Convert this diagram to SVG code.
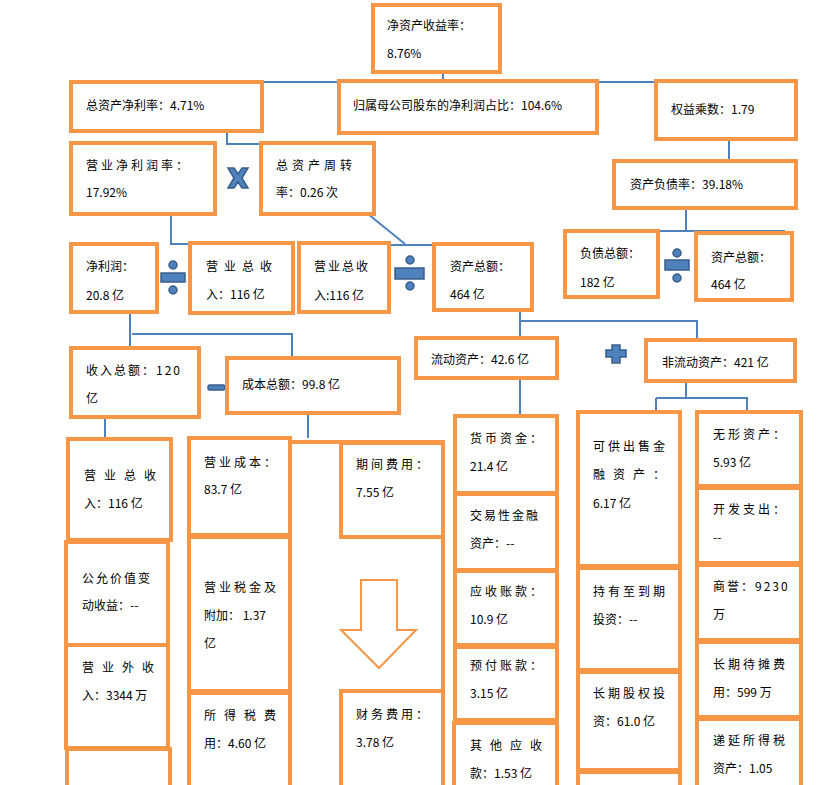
<svg xmlns="http://www.w3.org/2000/svg" width="829" height="785" viewBox="0 0 829 785">
<style>
.b{fill:#fff;stroke:#F79646;stroke-width:4}
.t{font-family:"Noto Sans CJK SC","Liberation Sans",sans-serif;font-size:12px;fill:#000}
.c{fill:none;stroke:#4F81BD;stroke-width:2}
.i{fill:#4F81BD;stroke:#385D8A;stroke-width:1.5}
</style>
<rect width="829" height="785" fill="#fff"/>
<g id="connectors">
<path class="c" d="M443 72V82M262 82H656"/>
<path class="c" d="M227 131V144H261"/>
<path class="c" d="M729 139V161"/>
<path class="c" d="M686 208V231M658 231H785"/>
<path class="c" d="M171 214V244H190"/>
<path class="c" d="M368 214L405 244M389 245H434"/>
<path class="c" d="M130 312V348M132 334H292V358"/>
<path class="c" d="M520 310V338M520 321H697V340"/>
<path class="c" d="M686 381V398M656 398H747V412M656 398V412"/>
<path class="c" d="M105 417V438M308 413V438M520 378V417"/>
</g>
<g id="icons">
<path class="i" d="M228 168L234 168L238 174L242 168L248 168L242 178L248 188L242 188L238 182L234 188L228 188L234 178Z"/>
<circle class="i" cx="173" cy="265" r="4"/><rect class="i" x="161" y="273" width="24" height="9"/><circle class="i" cx="173" cy="290" r="4"/>
<circle class="i" cx="410" cy="260" r="4"/><rect class="i" x="395" y="268" width="29" height="11"/><circle class="i" cx="410" cy="286" r="4"/>
<circle class="i" cx="677" cy="253" r="4"/><rect class="i" x="665" y="260" width="24" height="10"/><circle class="i" cx="677" cy="278" r="4"/>
<path class="i" d="M612 345H620V350H626V357H620V363H612V357H606V350H612Z"/>
<rect class="i" x="208" y="385" width="17" height="5" rx="2"/>
</g>
<g id="n1"><rect class="b" x="373" y="5" width="127" height="67"/><text class="t" x="387" y="30">净资产收益率：</text><text class="t" x="387" y="58">8.76%</text></g>
<g id="n2"><rect class="b" x="71" y="82" width="191" height="49"/><text class="t" x="86" y="110">总资产净利率：4.71%</text></g>
<g id="n3"><rect class="b" x="339" y="81" width="258" height="52"/><text class="t" x="353" y="110">归属母公司股东的净利润占比：104.6%</text></g>
<g id="n4"><rect class="b" x="656" y="81" width="140" height="58"/><text class="t" x="671" y="114">权益乘数：1.79</text></g>
<g id="n5"><rect class="b" x="71" y="143" width="144" height="71"/><text class="t" x="86" y="170" letter-spacing="3">营业净利润率：</text><text class="t" x="86" y="197">17.92%</text></g>
<g id="n6"><rect class="b" x="261" y="143" width="113" height="71"/><text class="t" x="276" y="170" letter-spacing="4">总资产周转</text><text class="t" x="276" y="197">率：0.26 次</text></g>
<g id="n7"><rect class="b" x="614" y="161" width="182" height="47"/><text class="t" x="630" y="189">资产负债率：39.18%</text></g>
<g id="n8"><rect class="b" x="565" y="231" width="93" height="66"/><text class="t" x="580" y="258">负债总额：</text><text class="t" x="580" y="287">182 亿</text></g>
<g id="n9"><rect class="b" x="696" y="233" width="96" height="67"/><text class="t" x="711" y="262">资产总额：</text><text class="t" x="711" y="289">464 亿</text></g>
<g id="n10"><rect class="b" x="71" y="244" width="86" height="68"/><text class="t" x="86" y="271">净利润：</text><text class="t" x="86" y="300">20.8 亿</text></g>
<g id="n11"><rect class="b" x="190" y="243" width="103" height="70"/><text class="t" x="206" y="271" letter-spacing="6">营业总收</text><text class="t" x="206" y="299">入：116 亿</text></g>
<g id="n12"><rect class="b" x="299" y="243" width="90" height="69"/><text class="t" x="314" y="271" letter-spacing="2">营业总收</text><text class="t" x="314" y="300">入:116 亿</text></g>
<g id="n13"><rect class="b" x="434" y="244" width="98" height="66"/><text class="t" x="450" y="271">资产总额：</text><text class="t" x="450" y="299">464 亿</text></g>
<g id="n14"><rect class="b" x="71" y="348" width="128" height="69"/><text class="t" x="86" y="375" letter-spacing="2">收入总额：120</text><text class="t" x="86" y="403">亿</text></g>
<g id="n15"><rect class="b" x="227" y="358" width="172" height="55"/><text class="t" x="242" y="389">成本总额：99.8 亿</text></g>
<g id="n16"><rect class="b" x="416" y="338" width="141" height="40"/><text class="t" x="431" y="364">流动资产：42.6 亿</text></g>
<g id="n17"><rect class="b" x="646" y="340" width="149" height="41"/><text class="t" x="662" y="367">非流动资产：421 亿</text></g>
<g id="frame"><path d="M290 442H443V785" fill="none" stroke="#F79646" stroke-width="4"/></g>
<g id="n18"><rect class="b" x="68" y="439" width="103" height="101"/><text class="t" x="84" y="480" letter-spacing="8">营业总收</text><text class="t" x="84" y="508">入：116 亿</text></g>
<g id="n19"><rect class="b" x="66" y="542" width="102" height="103"/><text class="t" x="82" y="583" letter-spacing="2">公允价值变</text><text class="t" x="82" y="610">动收益：--</text></g>
<g id="n20"><rect class="b" x="66" y="645" width="102" height="103"/><text class="t" x="82" y="672" letter-spacing="8">营业外收</text><text class="t" x="82" y="700">入：3344 万</text></g>
<g id="n21"><rect class="b" x="67" y="749" width="103" height="50"/></g>
<g id="n22"><rect class="b" x="189" y="438" width="101" height="97"/><text class="t" x="204" y="467" letter-spacing="3">营业成本：</text><text class="t" x="204" y="494">83.7 亿</text></g>
<g id="n23"><rect class="b" x="189" y="537" width="101" height="154"/><text class="t" x="204" y="592" letter-spacing="3">营业税金及</text><text class="t" x="204" y="620">附加： 1.37</text><text class="t" x="204" y="648">亿</text></g>
<g id="n24"><rect class="b" x="189" y="693" width="101" height="100"/><text class="t" x="204" y="720" letter-spacing="8">所得税费</text><text class="t" x="204" y="748">用：4.60 亿</text></g>
<g id="n25"><rect class="b" x="341" y="443" width="102" height="94"/><text class="t" x="356" y="469" letter-spacing="3">期间费用：</text><text class="t" x="356" y="497">7.55 亿</text></g>
<g id="arrow"><path d="M361 580H397V630H416L379 668L341 630H361Z" fill="#fff" stroke="#F79646" stroke-width="2"/></g>
<g id="n26"><rect class="b" x="341" y="691" width="102" height="100"/><text class="t" x="356" y="719" letter-spacing="3">财务费用：</text><text class="t" x="356" y="747">3.78 亿</text></g>
<g id="n27"><rect class="b" x="455" y="416" width="102" height="77"/><text class="t" x="470" y="443" letter-spacing="3">货币资金：</text><text class="t" x="470" y="471">21.4 亿</text></g>
<g id="n28"><rect class="b" x="455" y="494" width="102" height="76"/><text class="t" x="470" y="520" letter-spacing="2">交易性金融</text><text class="t" x="470" y="548">资产：--</text></g>
<g id="n29"><rect class="b" x="455" y="571" width="102" height="74"/><text class="t" x="470" y="596" letter-spacing="3">应收账款：</text><text class="t" x="470" y="624">10.9 亿</text></g>
<g id="n30"><rect class="b" x="455" y="647" width="102" height="73"/><text class="t" x="470" y="670" letter-spacing="3">预付账款：</text><text class="t" x="470" y="698">3.15 亿</text></g>
<g id="n31"><rect class="b" x="454" y="723" width="103" height="70"/><text class="t" x="470" y="750" letter-spacing="8">其他应收</text><text class="t" x="470" y="778">款：1.53 亿</text></g>
<g id="n32"><rect class="b" x="578" y="412" width="102" height="154"/><text class="t" x="593" y="451" letter-spacing="3">可供出售金</text><text class="t" x="593" y="479" letter-spacing="8">融资产：</text><text class="t" x="593" y="508">6.17 亿</text></g>
<g id="n33"><rect class="b" x="578" y="568" width="102" height="102"/><text class="t" x="593" y="596" letter-spacing="3">持有至到期</text><text class="t" x="593" y="624">投资：--</text></g>
<g id="n34"><rect class="b" x="578" y="672" width="102" height="98"/><text class="t" x="593" y="698" letter-spacing="3">长期股权投</text><text class="t" x="593" y="726">资：61.0 亿</text></g>
<g id="n35"><rect class="b" x="578" y="772" width="102" height="30"/></g>
<g id="n36"><rect class="b" x="697" y="412" width="104" height="74"/><text class="t" x="713" y="439" letter-spacing="3">无形资产：</text><text class="t" x="713" y="467">5.93 亿</text></g>
<g id="n37"><rect class="b" x="697" y="488" width="104" height="75"/><text class="t" x="713" y="514" letter-spacing="3">开发支出：</text><text class="t" x="713" y="542">--</text></g>
<g id="n38"><rect class="b" x="697" y="565" width="104" height="75"/><text class="t" x="713" y="591" letter-spacing="2">商誉：9230</text><text class="t" x="713" y="619">万</text></g>
<g id="n39"><rect class="b" x="697" y="642" width="104" height="75"/><text class="t" x="713" y="669" letter-spacing="3">长期待摊费</text><text class="t" x="713" y="697">用：599 万</text></g>
<g id="n40"><rect class="b" x="697" y="719" width="104" height="80"/><text class="t" x="713" y="745" letter-spacing="3">递延所得税</text><text class="t" x="713" y="773">资产：1.05</text></g>
</svg>
